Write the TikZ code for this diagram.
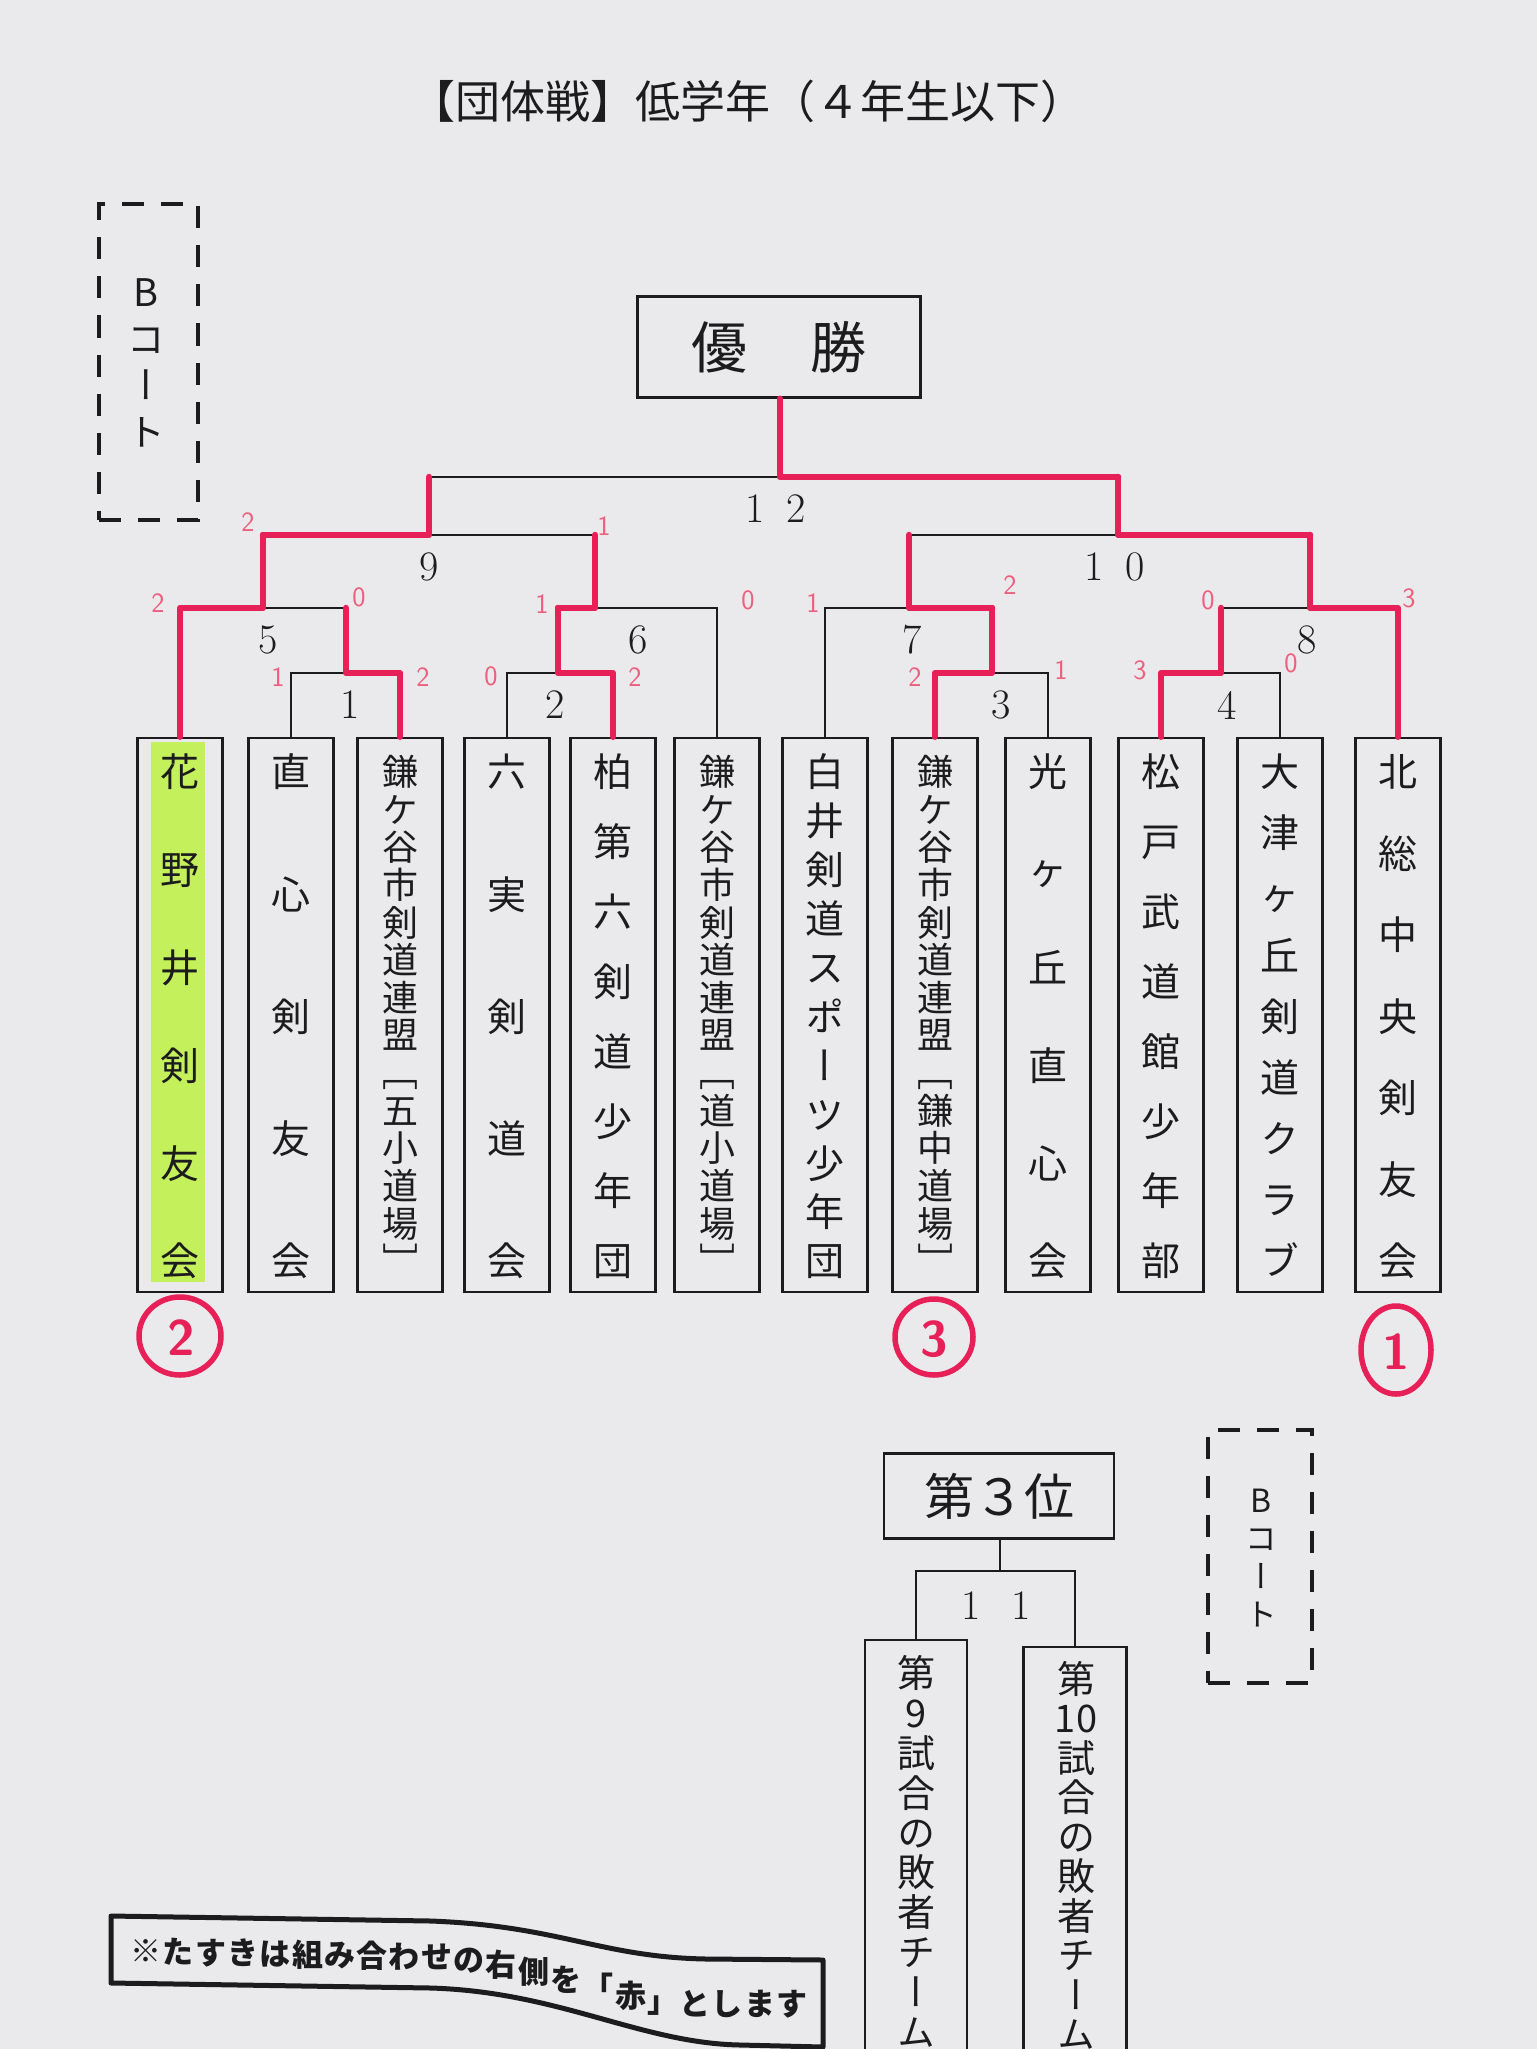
\documentclass[tikz,border=0pt]{standalone}
\usepackage{fontspec}
\usepackage{graphicx}
\newfontfamily\jp{Noto Sans CJK JP}
\newfontfamily\jpv{Noto Sans CJK JP}[RawFeature=+vert]
\definecolor{paper}{RGB}{234,234,237}
\definecolor{pen}{RGB}{232,32,88}
\definecolor{pen2}{RGB}{238,95,125}
\definecolor{hl}{RGB}{196,240,92}
\definecolor{ink}{RGB}{28,28,30}
\tikzset{
  bk/.style={draw=ink, line width=2pt},
  rd/.style={draw=pen, line width=6.5pt, line cap=round, line join=round},
  teambox/.style={draw=ink, line width=2.5pt, minimum width=85pt, minimum height=554pt, inner sep=0pt},
  mlabel/.style={inner sep=0pt, text=ink, font=\fontsize{42}{42}\selectfont},
  score/.style={inner sep=0pt, text=pen2, font=\sffamily\fontsize{28}{28}\selectfont},
  court/.style={draw=ink, line width=4pt, dash pattern=on 22pt off 17pt, inner sep=0pt},
  place/.style={draw=pen, line width=5.5pt},
  placedigit/.style={inner sep=0pt, text=pen, font=\sffamily\bfseries\fontsize{50}{50}\selectfont},
  notech/.style={inner sep=0pt, text height=27.3pt, text depth=3.7pt, text=ink,
                 font=\jp\bfseries\fontsize{31}{31}\selectfont},
}
% name, x, y first, y last, n, font size, list
\newcommand\colchars[7]{%
  \pgfmathsetmacro\chh{0.88*#6}%
  \pgfmathsetmacro\chd{0.12*#6}%
  \foreach \ch [count=\i from 0] in {#7}{%
    \pgfmathsetmacro\yy{#3+(#4-#3)*\i/(#5-1)}%
    \node[inner sep=0pt, text height=\chh pt, text depth=\chd pt, text=ink,
          font=\jpv\fontsize{#6}{#6}\selectfont] (#1-\i) at (#2,\yy) {\ch};}}
\begin{document}
\begin{tikzpicture}[x=1pt,y=-1pt]
\useasboundingbox (0,0) rectangle (1537,2049);
\fill[paper] (0,0) rectangle (1537,2049);

% title
\node[inner sep=0pt, text=ink, font=\jp\fontsize{45}{45}\selectfont] (title) at (748,101) {【団体戦】低学年（４年生以下）};

% B court boxes
\node[court, minimum width=99pt, minimum height=315pt] (bcL) at (148,362) {};
\colchars{bcLt}{146}{292}{432}{4}{38}{B,コ,ー,ト}
\node[court, minimum width=104pt, minimum height=253pt] (bcR) at (1260,1556) {};
\colchars{bcRt}{1261}{1500}{1614}{4}{32}{B,コ,ー,ト}

% winner box
\node[draw=ink, line width=2.5pt, minimum width=283pt, minimum height=101pt, inner sep=0pt,
      text=ink, font=\jp\fontsize{56}{56}\selectfont] (win) at (779,347) {優\hspace{63pt}勝};

% highlight
\fill[hl] (151,742) rectangle (205,1282);

% team boxes
\foreach \n/\x in {1/180,2/291,3/400,4/507,5/613,6/717,7/825,8/935,9/1048,10/1161,11/1280,12/1398}
  \node[teambox] (b\n) at (\x,1015) {};

\colchars{t1}{180}{772}{1261}{6}{39}{花,野,井,剣,友,会}
\colchars{t2}{291}{772}{1261}{5}{39}{直,心,剣,友,会}
\colchars{t3}{400}{772}{1261}{14}{36}{鎌,ケ,谷,市,剣,道,連,盟,［,五,小,道,場,］}
\colchars{t4}{507}{772}{1261}{5}{39}{六,実,剣,道,会}
\colchars{t5}{613}{772}{1261}{8}{39}{柏,第,六,剣,道,少,年,団}
\colchars{t6}{717}{772}{1261}{14}{36}{鎌,ケ,谷,市,剣,道,連,盟,［,道,小,道,場,］}
\colchars{t7}{825}{772}{1261}{11}{39}{白,井,剣,道,ス,ポ,ー,ツ,少,年,団}
\colchars{t8}{935}{772}{1261}{14}{36}{鎌,ケ,谷,市,剣,道,連,盟,［,鎌,中,道,場,］}
\colchars{t9}{1048}{772}{1261}{6}{39}{光,{\jp ヶ},丘,直,心,会}
\colchars{t10}{1161}{772}{1261}{8}{39}{松,戸,武,道,館,少,年,部}
\colchars{t11}{1280}{772}{1261}{9}{39}{大,津,{\jp ヶ},丘,剣,道,ク,ラ,ブ}
\colchars{t12}{1398}{772}{1261}{7}{39}{北,総,中,央,剣,友,会}

% match points
\coordinate (m1) at (346,673);
\coordinate (m2) at (558,673);
\coordinate (m3) at (992,673);
\coordinate (m4) at (1221,673);
\coordinate (m5) at (263,608);
\coordinate (m6) at (595,608);
\coordinate (m7) at (909,608);
\coordinate (m8) at (1310,608);
\coordinate (m9) at (429,535);
\coordinate (m10) at (1118,535);
\coordinate (m12) at (780,477);

% black bracket
\draw[bk] (b2.north) |- (m1) -| (b3.north);
\draw[bk] (b4.north) |- (m2) -| (b5.north);
\draw[bk] (b8.north) |- (m3) -| (b9.north);
\draw[bk] (b10.north) |- (m4) -| (b11.north);
\draw[bk] (b1.north) |- (m5) -| (m1);
\draw[bk] (m2) |- (m6) -| (b6.north);
\draw[bk] (b7.north) |- (m7) -| (m3);
\draw[bk] (m4) |- (m8) -| (b12.north);
\draw[bk] (m5) |- (m9) -| (m6);
\draw[bk] (m7) |- (m10) -| (m8);
\draw[bk] (m9) |- (m12) -| (m10);
\draw[bk] (m12) -- (m12 |- win.south);

% red winner lines
\draw[rd] (b3.north) |- (m1) -- (m1 |- m5);
\draw[rd] (b5.north) |- (m2) -- (m2 |- m6);
\draw[rd] (b8.north) |- (m3) -- (m3 |- m7);
\draw[rd] (b10.north) |- (m4) -- (m4 |- m8);
\draw[rd] (b1.north) |- (m5) -- (m5 |- m9);
\draw[rd] (m2 |- m6) -- (m6) -- (m6 |- m9);
\draw[rd] (m3 |- m7) -- (m7) -- (m7 |- m10);
\draw[rd] (b12.north) |- (m8) -- (m8 |- m10);
\draw[rd] (m5 |- m9) -- (m9) -- (m9 |- m12);
\draw[rd] (m8 |- m10) -- (m10) -- (m10 |- m12);
\draw[rd] (m10 |- m12) -- (m12) -- (m12 |- win.south);

% match numbers
\node[mlabel] (l1) at (350,705) {1};
\node[mlabel] (l2) at (555,705) {2};
\node[mlabel] (l3) at (1001,705) {3};
\node[mlabel] (l4) at (1227,705) {4};
\node[mlabel] (l5) at (268,640) {5};
\node[mlabel] (l6) at (638,640) {6};
\node[mlabel] (l7) at (912,640) {7};
\node[mlabel] (l8) at (1307,640) {8};
\node[mlabel] (l9) at (429,567) {9};
\node[mlabel] (l10) at (1115,567) {1\hspace{22pt}0};
\node[mlabel] (l12) at (776,509) {1\hspace{22pt}2};

% scores
\foreach \x/\y/\s [count=\k] in {248/522/2, 604/526/1, 158/603/2, 359/597/0,
    278/677/1, 423/677/2, 491/676/0, 635/677/2, 542/604/1, 748/600/0,
    813/603/1, 1010/585/2, 915/677/2, 1061/670/1, 1140/670/3, 1291/663/0,
    1208/600/0, 1409/598/3}
  \node[score] (s\k) at (\x,\y) {\s};

% placings
\draw[place] (180,1336) ellipse [x radius=41, y radius=39];
\node[placedigit] (p2) at (181,1338) {2};
\draw[place] (934,1337) ellipse [x radius=39, y radius=38];
\node[placedigit] (p3) at (934,1339) {3};
\draw[place] (1396,1350) ellipse [x radius=35, y radius=44];
\node[placedigit] (p1) at (1396,1352) {1};

% third place
\node[draw=ink, line width=2.5pt, minimum width=230pt, minimum height=85pt, inner sep=0pt,
      text=ink, font=\jp\fontsize{50}{50}\selectfont] (third) at (999,1496) {第３位};
\coordinate (m11) at (1000,1571);
\node[draw=ink, line width=2.5pt, minimum width=102pt, minimum height=470pt, inner sep=0pt] (q9) at (916,1875) {};
\node[draw=ink, line width=2.5pt, minimum width=103pt, minimum height=470pt, inner sep=0pt] (q10) at (1075,1882) {};
\draw[bk] (m11) -- (m11 |- third.south);
\draw[bk] (q9.north) |- (m11) -| (q10.north);
\node[mlabel] (l11) at (996,1606) {1\hspace{30pt}1};
\colchars{q9c}{916}{1673}{2032}{10}{38}{第,9,試,合,の,敗,者,チ,ー,ム}
\colchars{q10c}{1076}{1679}{2034}{10}{38}{第,10,試,合,の,敗,者,チ,ー,ム}

% note ribbon
\draw[draw=ink, line width=5pt, line join=round]
  (111,1916) -- (431,1921) .. controls (560,1926) and (600,1957) .. (706,1959) -- (823,1960)
  -- (823,2047) -- (740,2045) .. controls (640,2043) and (560,1992) .. (431,1988) -- (111,1983) -- cycle;
\foreach \ch [count=\i from 0] in {※,た,す,き,は,組,み,合,わ,せ,の,右,側,を,「,赤,」,と,し,ま,す}{%
  \pgfmathsetmacro\xx{146+32.3*\i}%
  \pgfmathsetmacro\tq{max(0,min(1,(\xx-431)/275))}%
  \pgfmathsetmacro\yy{\xx<431 ? 1951+6*(\xx-146)/285 : 1957+47*(3*\tq*\tq-2*\tq*\tq*\tq)}%
  \node[notech] (n\i) at (\xx,\yy) {\ch};}
\end{tikzpicture}
\end{document}
